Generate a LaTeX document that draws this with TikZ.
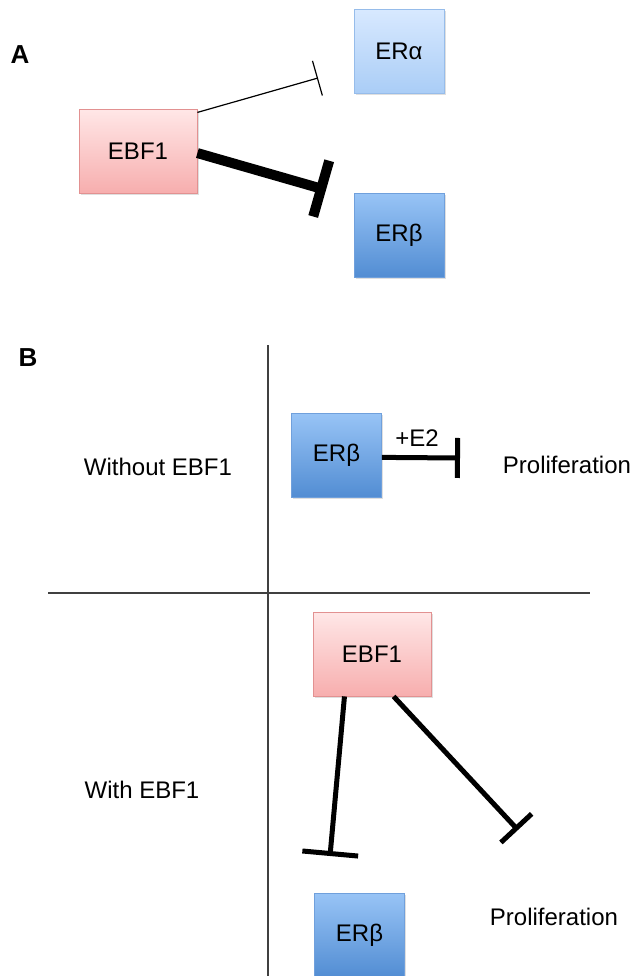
\documentclass[tikz,border=0pt]{standalone}
\usepackage{fontspec}
\setmainfont{Liberation Sans}
\usetikzlibrary{arrows.meta,shadows}

\definecolor{ebftop}{RGB}{255,231,231}
\definecolor{ebfbot}{RGB}{247,174,174}
\definecolor{ebfline}{RGB}{226,145,145}
\definecolor{alphatop}{RGB}{216,233,255}
\definecolor{alphabot}{RGB}{170,205,246}
\definecolor{alphaline}{RGB}{150,188,234}
\definecolor{betatop}{RGB}{152,196,246}
\definecolor{betabot}{RGB}{82,141,211}
\definecolor{betaline}{RGB}{112,160,220}

\begin{document}
\begin{tikzpicture}[x=0.5pt,y=-0.5pt,font=\fontsize{12pt}{14pt}\selectfont,
		gene/.style={rectangle,minimum height=42pt,inner sep=0pt,
			drop shadow={opacity=0.25,shadow xshift=0.8pt,shadow yshift=-0.8pt}},
		ebf/.style={gene,minimum width=59pt,draw=ebfline,top color=ebftop,bottom color=ebfbot},
		eralpha/.style={gene,minimum width=45pt,draw=alphaline,top color=alphatop,bottom color=alphabot},
		erbeta/.style={gene,minimum width=45pt,draw=betaline,top color=betatop,bottom color=betabot},
		panel/.style={font=\fontsize{13pt}{15pt}\selectfont\bfseries},
		divider/.style={draw=black!75,line width=0.7pt}]
		\useasboundingbox (0,0) rectangle (634,976);

		% panel A
		\node[panel] (lblA) at (20,55) {A};
		\node[ebf] (ebfA) at (138,151) {EBF1};
		\node[eralpha] (alphaA) at (399,51) {ERα};
		\node[erbeta] (betaA) at (399,235) {ERβ};
		\coordinate (endAlpha) at (318,78);
		\coordinate (endBeta) at (326,190);
		\draw[line width=0.6pt,-{Bar[width=18pt]}] (ebfA.33) -- (endAlpha);
		\draw[line width=5pt,-{Bar[width=29pt]}] (ebfA.-2) -- (endBeta);

		% panel B
		\node[panel] (lblB) at (28,358) {B};
		\draw[divider] (268,345) -- (268,976);
		\draw[divider] (48,593) -- (590,593);
		\node (without) at (158,467) {Without EBF1};
		\node (with) at (142,790) {With EBF1};

		\node[erbeta] (betaTop) at (336.5,455) {ERβ};
		\node (prolTop) at (567,465) {Proliferation};
		\coordinate (endTop) at (460,458);
		\draw[line width=2.5pt,-{Bar[width=20pt]}] (betaTop.-3) -- (endTop) node[pos=0.45,above=1pt] (e2) {+E2};

		\node[ebf] (ebfBot) at (372,654) {EBF1};
		\node[erbeta] (betaBot) at (359.5,935) {ERβ};
		\node (prolBot) at (554,917) {Proliferation};
		\coordinate (endBetaBot) at (330,856);
		\coordinate (endProlBot) at (518,830);
		\draw[line width=2.5pt,-{Bar[width=28pt]}] (ebfBot.237) -- (endBetaBot);
		\draw[line width=2.5pt,-{Bar[width=21pt]}] (ebfBot.297) -- (endProlBot);
	\end{tikzpicture}
\end{document}
